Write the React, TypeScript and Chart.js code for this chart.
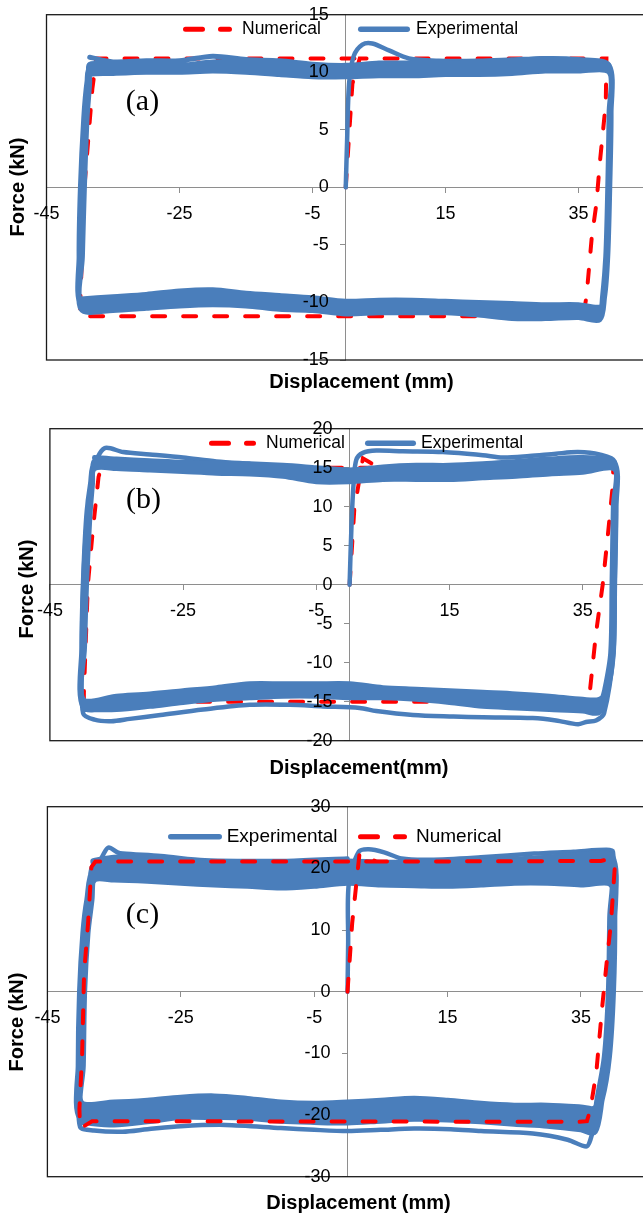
import React, { useEffect, useRef } from "react";
import { Chart, registerables } from "chart.js";
Chart.register(...registerables);

type Pt = [number, number];

const FONT = '"Liberation Sans", Arial, sans-serif';
const SERIF = '"Liberation Serif", "Times New Roman", serif';
const BLUE = "#4A7EBB";
const RED = "#FF0000";
const AXIS_GRAY = "#8E8E8E";
const Y_LABEL_GAP = 17;

const X_TICKS = [-45, -25, -5, 15, 35];

// ---------- Panel (a) ----------
const A_TOP_X = [-38.5, -35, -30, -25, -20, -15, -10, -5, 0, 5, 10, 15, 20, 25, 30, 35, 39.6];
const A_TOP_1 = [11.3, 10.9, 11.0, 11.0, 11.4, 11.1, 11.0, 10.7, 10.6, 10.8, 10.8, 10.8, 10.9, 11.0, 11.2, 11.1, 10.6];
const A_TOP_2 = [10.7, 10.6, 10.7, 10.6, 10.9, 10.8, 10.6, 10.3, 10.3, 10.5, 10.4, 10.5, 10.6, 10.7, 10.9, 10.8, 10.4];
const A_TOP_3 = [10.4, 10.3, 10.4, 10.4, 10.6, 10.5, 10.3, 10.1, 10.0, 10.1, 10.2, 10.2, 10.3, 10.4, 10.6, 10.5, 10.3];
const A_TOP_4 = [10.1, 10.1, 10.1, 10.2, 10.3, 10.2, 10.0, 9.8, 9.8, 9.9, 9.9, 10.0, 10.0, 10.1, 10.3, 10.3, 10.1];
const A_TOP_5 = [9.8, 9.9, 10.0, 10.0, 10.1, 10.0, 9.8, 9.6, 9.6, 9.7, 9.7, 9.8, 9.8, 9.9, 10.1, 10.1, 10.0];
const A_BOT_X = [38.2, 35, 30, 25, 20, 15, 10, 5, 0, -5, -10, -15, -20, -25, -30, -35, -39.8];
const A_BOT_1 = [-11.5, -11.3, -11.4, -11.4, -11.1, -10.9, -10.9, -10.9, -11.0, -10.7, -10.6, -10.3, -10.2, -10.3, -10.5, -10.7, -10.6];
const A_BOT_2 = [-11.1, -10.9, -11.0, -11.0, -10.8, -10.6, -10.6, -10.6, -10.7, -10.4, -10.3, -10.0, -9.8, -9.9, -10.2, -10.4, -10.3];
const A_BOT_3 = [-10.8, -10.7, -10.8, -10.7, -10.5, -10.4, -10.3, -10.3, -10.4, -10.1, -9.9, -9.7, -9.5, -9.6, -9.9, -10.1, -10.1];
const A_BOT_4 = [-10.6, -10.4, -10.5, -10.4, -10.3, -10.1, -10.0, -10.0, -10.1, -9.8, -9.6, -9.4, -9.2, -9.3, -9.6, -9.8, -9.9];
const A_BOT_5 = [-10.4, -10.2, -10.2, -10.1, -10.0, -9.9, -9.8, -9.8, -9.9, -9.6, -9.4, -9.2, -8.9, -9.0, -9.3, -9.5, -9.7];
const A_RIGHT_OUT: Pt[] = [[39.9, 6.5], [39.7, 0], [39.4, -6], [38.9, -9.6]];
const A_RIGHT_IN: Pt[] = [[39.6, 6.5], [39.4, 0], [39.1, -6], [38.6, -9.6]];
const A_LEFT_OUT: Pt[] = [[-40.1, -6], [-39.9, 0], [-39.4, 6], [-38.9, 9.2]];
const A_LEFT_IN: Pt[] = [[-39.6, -6], [-39.3, 0], [-38.9, 6], [-38.5, 9.2]];
const A_INITIAL: Pt[] = [[0, 0], [0.2, 4], [0.5, 9], [1.2, 11.4], [2.5, 12.4], [4, 12.5], [6.5, 11.9], [9.5, 11.2], [14, 11.0], [20, 11.0], [25, 11.1], [30, 11.2], [35, 11.0], [39.6, 10.6]];
const A_NUM: Pt[] = [[0, 0], [1.0, 9.0], [2.1, 11.2], [39.2, 11.2], [39.1, 7.3], [38.2, 2.1], [37.7, -1.4], [37.0, -4.3], [36.2, -9.5], [35.7, -11.2], [-40.0, -11.2], [-39.6, -5], [-39.3, 0], [-38.1, 8.6], [-37.5, 11.2], [2.1, 11.2]];

// ---------- Panel (b) ----------
const B_TOP_X = [-38.3, -35, -30, -25, -20, -15, -10, -5, 0, 5, 10, 15, 20, 25, 30, 35, 39.8];
const B_TOP_1 = [16.3, 16.1, 15.9, 15.7, 15.6, 15.5, 15.3, 15.0, 14.7, 15.1, 15.3, 15.3, 15.5, 15.8, 16.1, 16.3, 15.6];
const B_TOP_2 = [15.9, 15.8, 15.6, 15.4, 15.2, 15.1, 14.9, 14.5, 14.3, 14.7, 14.8, 14.9, 15.0, 15.3, 15.7, 15.8, 15.4];
const B_TOP_3 = [15.6, 15.5, 15.3, 15.1, 14.9, 14.8, 14.6, 14.1, 14.0, 14.3, 14.4, 14.4, 14.6, 14.9, 15.2, 15.4, 15.2];
const B_TOP_4 = [15.2, 15.2, 15.0, 14.8, 14.6, 14.5, 14.2, 13.6, 13.6, 13.9, 14.0, 14.0, 14.2, 14.4, 14.7, 14.9, 15.0];
const B_TOP_5 = [14.9, 14.9, 14.7, 14.5, 14.3, 14.2, 13.9, 13.2, 13.2, 13.5, 13.5, 13.5, 13.7, 13.9, 14.2, 14.4, 14.8];
const B_BOT_X = [37.5, 35, 30, 25, 20, 15, 10, 5, 0, -5, -10, -15, -20, -25, -30, -35, -40];
const B_BOT_1 = [-14.7, -14.7, -14.3, -14.0, -13.8, -13.6, -13.4, -13.2, -12.7, -12.7, -12.7, -12.7, -13.2, -13.6, -14.0, -14.3, -14.7];
const B_BOT_2 = [-15.1, -15.1, -14.7, -14.5, -14.3, -14.0, -13.8, -13.6, -13.2, -13.1, -13.1, -13.2, -13.6, -14.0, -14.4, -14.7, -15.0];
const B_BOT_3 = [-15.6, -15.5, -15.2, -14.9, -14.7, -14.4, -14.1, -13.9, -13.6, -13.5, -13.5, -13.6, -13.9, -14.3, -14.8, -15.2, -15.4];
const B_BOT_4 = [-16.0, -15.9, -15.6, -15.4, -15.2, -14.8, -14.4, -14.2, -14.1, -13.9, -13.9, -14.1, -14.3, -14.7, -15.2, -15.6, -15.7];
const B_BOT_5 = [-16.4, -16.2, -16.0, -15.8, -15.6, -15.1, -14.7, -14.5, -14.5, -14.3, -14.3, -14.5, -14.7, -15.1, -15.6, -16.0, -16.0];
const B_RIGHT_OUT: Pt[] = [[40.0, 10], [39.8, 0], [39.6, -8.8], [38.7, -13.5]];
const B_RIGHT_IN: Pt[] = [[39.6, 10], [39.4, 0], [39.2, -8.8], [38.3, -13.5]];
const B_LEFT_OUT: Pt[] = [[-40.2, -8], [-40.0, 0], [-39.5, 8.7], [-38.9, 13]];
const B_LEFT_IN: Pt[] = [[-39.8, -8], [-39.5, 0], [-39.0, 8.7], [-38.6, 13]];
const B_OUTER: Pt[] = [
  [0, 0], [0.3, 8], [0.6, 13], [1.0, 16], [2, 16.9], [4, 17.2], [8, 17.1], [14, 17.0], [20, 16.6], [23, 16.3], [27, 16.5], [31, 16.8], [34.3, 17.0], [37.5, 16.7], [39.8, 15.8],
  [40.0, 10], [39.8, 0], [39.6, -8.8], [38.2, -16.5], [37, -17.4], [35.5, -17.6], [34.3, -17.9], [31, -17.4], [27.5, -17.1], [20, -17.0], [15.6, -16.9], [9.5, -16.7], [4, -16.2], [1.5, -15.8], [-4, -15.6], [-9, -15.4], [-15, -15.4], [-22, -16.0], [-28.4, -16.7], [-33, -17.2], [-35.8, -17.5], [-38.3, -17.3], [-40.0, -16.5],
  [-40.2, -10], [-40.0, 0], [-39.4, 8.7], [-38.4, 15], [-36.8, 17.5], [-34, 17.0], [-30, 16.7], [-25, 16.3], [-20, 15.8], [-15, 15.5],
];
const B_NUM: Pt[] = [[0, 0], [0.7, 9.6], [2.0, 16.2], [3.2, 15.6], [4.5, 15.0], [39.6, 15.0], [39.5, 12.6], [38.9, 7.4], [38.0, 0], [37.0, -6.2], [36.1, -13.5], [35.5, -15.0], [-39.9, -15.0], [-39.9, -13.9], [-39.3, 0], [-38.6, 6.6], [-37.7, 13.8], [-37.3, 15.0], [4.5, 15.0]];

// ---------- Panel (c) ----------
const C_TOP_X = [-38, -35, -30, -25, -20, -15, -10, -5, 0, 5, 10, 15, 20, 25, 30, 35, 39.6];
const C_TOP_1 = [21.1, 21.6, 21.8, 21.1, 20.6, 20.6, 20.6, 20.8, 21.0, 20.8, 20.8, 20.8, 21.0, 21.3, 21.6, 22.1, 21.8];
const C_TOP_2 = [20.4, 20.8, 21.0, 20.4, 20.0, 19.9, 19.8, 20.0, 20.3, 20.1, 20.0, 20.0, 20.2, 20.5, 20.7, 21.0, 20.8];
const C_TOP_3 = [19.7, 19.9, 20.0, 19.6, 19.2, 19.0, 18.9, 19.1, 19.5, 19.2, 19.1, 19.1, 19.3, 19.6, 19.8, 19.9, 19.7];
const C_TOP_4 = [19.0, 19.1, 19.0, 18.7, 18.3, 18.1, 17.9, 18.2, 18.6, 18.3, 18.2, 18.2, 18.4, 18.7, 18.8, 18.7, 18.6];
const C_TOP_5 = [18.3, 18.3, 18.1, 17.8, 17.5, 17.3, 17.0, 17.3, 17.8, 17.5, 17.4, 17.3, 17.5, 17.8, 17.8, 17.5, 17.5];
const C_BOT_X = [37, 35, 30, 25, 20, 15, 10, 5, 0, -5, -10, -15, -20, -25, -30, -35, -40];
const C_BOT_1 = [-19.1, -18.9, -18.6, -18.6, -18.3, -17.8, -17.5, -17.8, -18.1, -18.3, -18.1, -17.5, -17.1, -17.3, -17.8, -18.1, -18.1];
const C_BOT_2 = [-19.9, -19.6, -19.3, -19.3, -19.0, -18.5, -18.3, -18.6, -18.9, -19.0, -18.8, -18.2, -17.9, -18.0, -18.6, -18.9, -18.9];
const C_BOT_3 = [-20.7, -20.4, -20.0, -19.9, -19.6, -19.2, -19.0, -19.3, -19.6, -19.7, -19.5, -18.9, -18.7, -18.8, -19.4, -19.7, -19.7];
const C_BOT_4 = [-21.6, -21.2, -20.8, -20.6, -20.3, -19.9, -19.8, -20.1, -20.4, -20.4, -20.2, -19.6, -19.5, -19.5, -20.2, -20.6, -20.4];
const C_BOT_5 = [-22.6, -22.2, -21.6, -21.3, -20.9, -20.6, -20.5, -20.8, -21.1, -21.0, -20.8, -20.3, -20.2, -20.2, -20.9, -21.4, -21.0];
const C_RIGHT_OUT: Pt[] = [[39.9, 12], [39.7, 0], [39.1, -10.5], [38.0, -17.5]];
const C_RIGHT_IN: Pt[] = [[39.5, 12], [39.3, 0], [38.7, -10.5], [37.6, -17.5]];
const C_LEFT_OUT: Pt[] = [[-40.2, -12], [-40.0, 0], [-39.5, 9.5], [-38.9, 14.9]];
const C_LEFT_IN: Pt[] = [[-39.8, -12], [-39.6, 0], [-39.1, 9.5], [-38.5, 14.9]];
const C_OUTER: Pt[] = [
  [0, 0], [0.1, 8], [0.2, 17.6], [1.7, 22.7], [3.2, 23.1], [5.5, 22.6], [8.1, 21.6], [12.4, 21.4], [20, 21.8], [28, 22.4], [33.9, 22.7], [38.8, 23.0], [39.8, 22.7],
  [39.9, 15], [39.6, 0], [39.0, -10.5], [37.6, -19.2], [36.4, -24.1], [35.8, -25.1], [33, -24.0], [27.8, -23.0], [20, -22.6], [15.5, -22.3], [10, -22.2], [5, -22.4], [0, -22.6], [-5, -22.4], [-10, -22.1], [-18.3, -21.6], [-25, -21.8], [-30, -22.3], [-33.7, -22.7], [-38, -22.5], [-40.1, -21.9],
  [-40.2, -15], [-40.1, 0], [-39.5, 9.5], [-38.9, 14.9], [-38, 19], [-36.5, 22.5], [-35.8, 23.4], [-34.5, 22.6], [-33.7, 22.4], [-28, 22.0], [-21.4, 21.3], [-15, 21.2], [-9.1, 21.2], [0, 21.6],
];
const C_NUM: Pt[] = [[0, 0], [0.7, 11.1], [1.8, 22.4], [3.2, 21.6], [4.4, 21.1], [38, 21.2], [39.3, 21.5], [40.1, 20.5], [39.5, 11.1], [38.8, 4.1], [38.2, -2.4], [37.3, -13.2], [36.4, -19.2], [35.9, -21.0], [34.8, -21.1], [-38.3, -21.0], [-40.1, -22.2], [-40.2, -19], [-39.8, -10.5], [-39.5, 3], [-38.9, 11.1], [-38.4, 20.2], [-37.8, 21.1], [4.4, 21.1]];

function buildCycles(topX: number[], botX: number[], tops: number[][], bots: number[][], rights: Pt[][], lefts: Pt[][]): Pt[] {
  const pts: Pt[] = [];
  for (let i = 0; i < tops.length; i++) {
    if (i > 0) lefts[i % 2].forEach((p) => pts.push(p));
    topX.forEach((x, j) => pts.push([x, tops[i][j]]));
    rights[i % 2].forEach((p) => pts.push(p));
    botX.forEach((x, j) => pts.push([x, bots[i][j]]));
  }
  return pts;
}

type LegendItem = { kind: "exp" | "num"; x0: number; x1: number; tx: number; label: string };
type PanelSpec = {
  top: number; height: number;
  pad: { left: number; right: number; top: number; bottom: number };
  yMin: number; yMax: number; yStep: number;
  cycles: Pt[]; outer: Pt[]; num: Pt[]; bandWidth: number; numOnTop: boolean;
  legend: LegendItem[]; legendY: number; legendFont: number;
  label: string; labelPos: [number, number];
  xTitle: string; xTitlePos: [number, number]; yTitlePos: [number, number];
};

const PANELS: PanelSpec[] = [
  {
    top: 0, height: 400,
    pad: { left: 46.5, right: 15, top: 14.7, bottom: 40 },
    yMin: -15, yMax: 15, yStep: 5,
    cycles: buildCycles(A_TOP_X, A_BOT_X, [A_TOP_1, A_TOP_2, A_TOP_3, A_TOP_4, A_TOP_5], [A_BOT_1, A_BOT_2, A_BOT_3, A_BOT_4, A_BOT_5], [A_RIGHT_OUT, A_RIGHT_IN], [A_LEFT_OUT, A_LEFT_IN]),
    outer: A_INITIAL, num: A_NUM, bandWidth: 5, numOnTop: false,
    legend: [
      { kind: "num", x0: 183, x1: 232, tx: 242, label: "Numerical" },
      { kind: "exp", x0: 358, x1: 410, tx: 416, label: "Experimental" },
    ],
    legendY: 29.3, legendFont: 17.5,
    label: "(a)", labelPos: [142.5, 102],
    xTitle: "Displacement (mm)", xTitlePos: [361.5, 382], yTitlePos: [18.4, 187],
  },
  {
    top: 400, height: 390,
    pad: { left: 49.9, right: 10.7, top: 28.7, bottom: 49.3 },
    yMin: -20, yMax: 20, yStep: 5,
    cycles: buildCycles(B_TOP_X, B_BOT_X, [B_TOP_1, B_TOP_2, B_TOP_3, B_TOP_4, B_TOP_5], [B_BOT_1, B_BOT_2, B_BOT_3, B_BOT_4, B_BOT_5], [B_RIGHT_OUT, B_RIGHT_IN], [B_LEFT_OUT, B_LEFT_IN]),
    outer: B_OUTER, num: B_NUM, bandWidth: 5, numOnTop: false,
    legend: [
      { kind: "num", x0: 209, x1: 256, tx: 266, label: "Numerical" },
      { kind: "exp", x0: 365, x1: 416, tx: 421, label: "Experimental" },
    ],
    legendY: 43.3, legendFont: 17.5,
    label: "(b)", labelPos: [143.5, 100.5],
    xTitle: "Displacement(mm)", xTitlePos: [359, 368], yTitlePos: [27.7, 189],
  },
  {
    top: 790, height: 425,
    pad: { left: 47.4, right: 12.4, top: 16.7, bottom: 38.3 },
    yMin: -30, yMax: 30, yStep: 10,
    cycles: buildCycles(C_TOP_X, C_BOT_X, [C_TOP_1, C_TOP_2, C_TOP_3, C_TOP_4, C_TOP_5], [C_BOT_1, C_BOT_2, C_BOT_3, C_BOT_4, C_BOT_5], [C_RIGHT_OUT, C_RIGHT_IN], [C_LEFT_OUT, C_LEFT_IN]),
    outer: C_OUTER, num: C_NUM, bandWidth: 7.5, numOnTop: true,
    legend: [
      { kind: "exp", x0: 168, x1: 222, tx: 226.7, label: "Experimental" },
      { kind: "num", x0: 358, x1: 407, tx: 416, label: "Numerical" },
    ],
    legendY: 46.7, legendFont: 19,
    label: "(c)", labelPos: [142.5, 125.5],
    xTitle: "Displacement (mm)", xTitlePos: [358.5, 413], yTitlePos: [17.8, 232],
  },
];

function Panel({ spec }: { spec: PanelSpec }) {
  const ref = useRef<HTMLCanvasElement>(null);
  useEffect(() => {
    const canvas = ref.current;
    if (!canvas) return;
    const toXY = (pts: Pt[]) => pts.map(([x, y]) => ({ x, y }));
    const common = { showLine: true, pointRadius: 0, pointHoverRadius: 0, fill: false };
    const expSets: any[] = [
      { ...common, label: "Experimental", data: toXY(spec.cycles), borderColor: BLUE, backgroundColor: BLUE, borderWidth: spec.bandWidth, tension: 0.3, borderJoinStyle: "round", borderCapStyle: "round" },
      { ...common, label: "Experimental", data: toXY(spec.outer), borderColor: BLUE, backgroundColor: BLUE, borderWidth: 4.5, tension: 0.3, borderJoinStyle: "round", borderCapStyle: "round" },
    ];
    const numSet: any = { ...common, label: "Numerical", data: toXY(spec.num), borderColor: RED, backgroundColor: RED, borderWidth: 4, borderDash: [13, 18], borderCapStyle: "round", tension: 0 };
    const datasets = spec.numOnTop ? [numSet, ...expSets] : [...expSets, numSet];

    const framePlugin = {
      id: "framePlugin",
      beforeDraw(chart: any) {
        const ys = chart.scales.y;
        if (ys && !ys.__shifted) {
          const orig = ys._computeLabelItems.bind(ys);
          ys._computeLabelItems = (ca: any) =>
            orig(ca).map((it: any) => ({
              ...it,
              options: { ...it.options, translation: [it.options.translation[0] - Y_LABEL_GAP, it.options.translation[1]] },
            }));
          ys.__shifted = true;
          ys._labelItems = null;
        }
      },
      beforeDatasetsDraw(chart: any) {
        const { ctx, chartArea: a } = chart;
        ctx.save();
        ctx.strokeStyle = "#1a1a1a";
        ctx.lineWidth = 1.3;
        ctx.strokeRect(a.left, a.top, a.right - a.left, a.bottom - a.top);
        ctx.restore();
      },
      afterDraw(chart: any) {
        const ctx = chart.ctx as CanvasRenderingContext2D;
        ctx.save();
        ctx.textBaseline = "middle";
        ctx.textAlign = "left";
        ctx.font = `${spec.legendFont}px ${FONT}`;
        for (const it of spec.legend) {
          ctx.beginPath();
          if (it.kind === "exp") {
            ctx.strokeStyle = BLUE;
            ctx.lineWidth = 5.5;
            ctx.lineCap = "round";
            ctx.setLineDash([]);
            ctx.moveTo(it.x0 + 2.75, spec.legendY);
            ctx.lineTo(it.x1 - 2.75, spec.legendY);
          } else {
            ctx.strokeStyle = RED;
            ctx.lineWidth = 5;
            ctx.lineCap = "round";
            ctx.setLineDash([17, 18]);
            ctx.moveTo(it.x0 + 2.5, spec.legendY);
            ctx.lineTo(it.x1 - 2.5, spec.legendY);
          }
          ctx.stroke();
          ctx.setLineDash([]);
          ctx.fillStyle = "#000";
          ctx.fillText(it.label, it.tx, spec.legendY);
        }
        ctx.font = `30px ${SERIF}`;
        ctx.textAlign = "center";
        ctx.fillText(spec.label, spec.labelPos[0], spec.labelPos[1]);
        ctx.font = `bold 20px ${FONT}`;
        ctx.fillText(spec.xTitle, spec.xTitlePos[0], spec.xTitlePos[1]);
        ctx.translate(spec.yTitlePos[0], spec.yTitlePos[1]);
        ctx.rotate(-Math.PI / 2);
        ctx.fillText("Force (kN)", 0, 0);
        ctx.restore();
      },
    };

    const tickFont = { family: FONT, size: 18 };
    const zeroPad = (s: any) => {
      s.paddingTop = 0;
      s.paddingBottom = 0;
      s.paddingLeft = 0;
      s.paddingRight = 0;
    };
    const chart = new Chart(canvas, {
      type: "scatter",
      data: { datasets },
      options: {
        responsive: false,
        animation: false,
        devicePixelRatio: 1,
        events: [],
        layout: { padding: spec.pad },
        plugins: { legend: { display: false }, tooltip: { enabled: false }, title: { display: false } },
        scales: {
          x: {
            type: "linear",
            min: -45,
            max: 45,
            position: { y: 0 },
            afterBuildTicks: (s: any) => {
              s.ticks = X_TICKS.map((v) => ({ value: v }));
            },
            afterFit: (s: any) => {
              s.height = 0;
              zeroPad(s);
            },
            grid: { drawOnChartArea: false, drawTicks: true, tickLength: 5, color: AXIS_GRAY, lineWidth: 1 },
            border: { display: true, color: AXIS_GRAY, width: 1 },
            ticks: { autoSkip: false, maxRotation: 0, minRotation: 0, padding: 11, color: "#000", font: tickFont, z: 1 },
          },
          y: {
            type: "linear",
            min: spec.yMin,
            max: spec.yMax,
            position: { x: 0 },
            afterFit: (s: any) => {
              s.width = 0;
              zeroPad(s);
            },
            grid: { drawOnChartArea: false, drawTicks: true, tickLength: 5, color: AXIS_GRAY, lineWidth: 1 },
            border: { display: true, color: AXIS_GRAY, width: 1 },
            ticks: { stepSize: spec.yStep, autoSkip: false, padding: 0, color: "#000", font: tickFont, z: 1 },
          },
        },
      } as any,
      plugins: [framePlugin as any],
    });
    return () => chart.destroy();
  }, [spec]);
  return (
    <canvas
      ref={ref}
      width={660}
      height={spec.height}
      style={{ position: "absolute", left: 0, top: spec.top, width: 660, height: spec.height }}
    />
  );
}

export default function App() {
  return (
    <div style={{ position: "absolute", left: 0, top: 0, width: 643, height: 1215, overflow: "hidden", background: "#fff" }}>
      {PANELS.map((p, i) => (
        <Panel key={i} spec={p} />
      ))}
    </div>
  );
}
